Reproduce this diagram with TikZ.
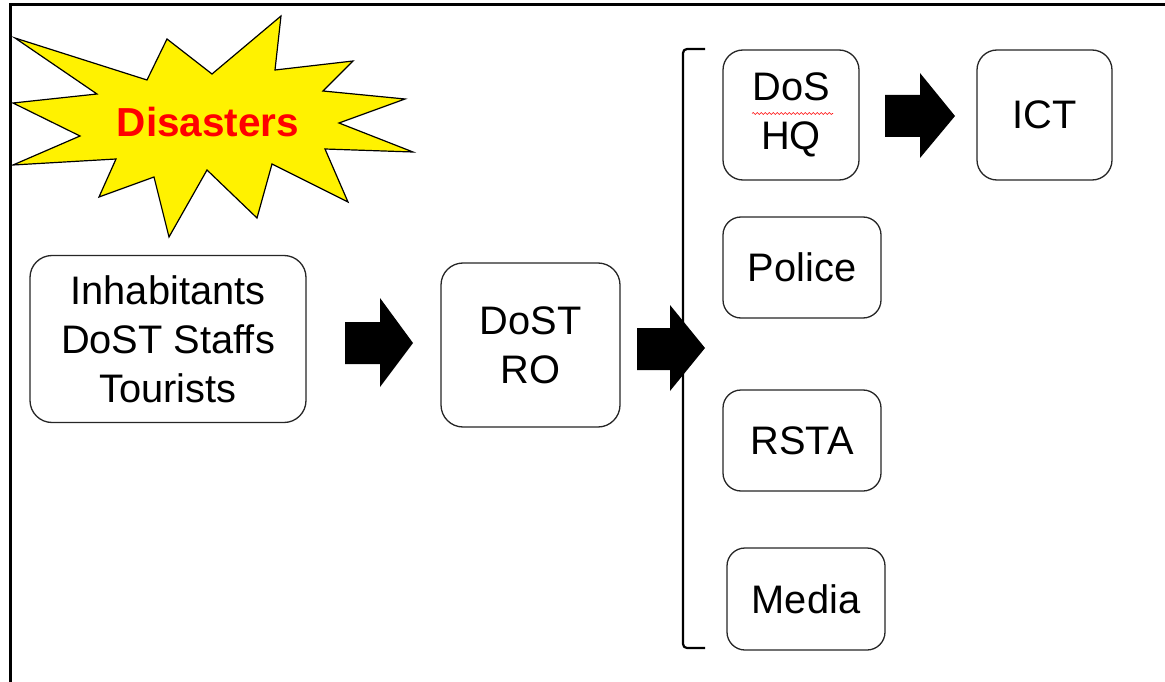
\documentclass[tikz,border=0pt]{standalone}
\usepackage{fontspec}
\setmainfont{Liberation Sans}
\usetikzlibrary{decorations.pathmorphing}
\begin{document}
\begin{tikzpicture}[x=1pt,y=-1pt,
  box/.style={draw=black!85, line width=1.3pt, rounded corners=22pt, fill=white, align=center,
    font=\fontsize{39.8}{49}\selectfont, inner sep=0pt},
  blockarrow/.style={fill=black},
  frameline/.style={line width=3pt, black}]
\useasboundingbox (0,0) rectangle (1165,682);
% frame
\draw[frameline] (10,682) -- (10,5) -- (1165,5);
% starburst
\filldraw[fill=yellow, draw=black, line width=1.2pt, line join=miter]
  (15,38) -- (147,80) -- (167,39) -- (212,74) -- (281,16) -- (275,70) -- (353,61) -- (323,91)
  -- (405,99) -- (339,123) -- (413,152) -- (325,149) -- (348,202) -- (272,164) -- (257,218)
  -- (207,170) -- (169,237) -- (154,177) -- (99,197) -- (116,159) -- (13,165) -- (80,136)
  -- (13,103) -- (97,94) -- cycle;
\node[text=red, font=\fontsize{40.5}{46}\selectfont\bfseries] (dis) at (208,122) {Disasters};
% boxes
\node[box, minimum width=276pt, minimum height=167pt] (inh) at (168,339) {Inhabitants\\DoST Staffs\\Tourists};
\node[box, minimum width=179pt, minimum height=164pt] (ro) at (530.5,345) {DoST\\RO};
\node[box, minimum width=136pt, minimum height=130pt, rounded corners=20pt] (hq) at (791,115) {DoS\\HQ};
\node[box, minimum width=135pt, minimum height=130pt, rounded corners=20pt] (ict) at (1044.5,115) {ICT};
\node[box, minimum width=158pt, minimum height=101pt, rounded corners=18pt] (pol) at (802,267.5) {\raisebox{-2pt}{Police}};
\node[box, minimum width=158pt, minimum height=101pt, rounded corners=18pt] (rsta) at (802,440.5) {RSTA};
\node[box, minimum width=158pt, minimum height=102pt, rounded corners=18pt] (med) at (806,599) {\raisebox{-2pt}{Media}};
% spell-check underline
\draw[red, line width=0.6pt, decorate, decoration={snake, amplitude=1pt, segment length=4pt}]
  (752,113.5) -- (833,113.5);
% bracket
\draw[line width=2.2pt, rounded corners=4pt] (705,49) -- (683,49) -- (683,648) -- (705,648);
% block arrows
\fill[blockarrow] (345,322) -- (380,322) -- (380,298) -- (413,343) -- (380,387) -- (380,364) -- (345,364) -- cycle;
\fill[blockarrow] (637,328) -- (670,328) -- (670,305) -- (705,348) -- (670,391) -- (670,370) -- (637,370) -- cycle;
\fill[blockarrow] (885,95) -- (920,95) -- (920,73) -- (955,116) -- (920,158) -- (920,137) -- (885,137) -- cycle;
\end{tikzpicture}
\end{document}
